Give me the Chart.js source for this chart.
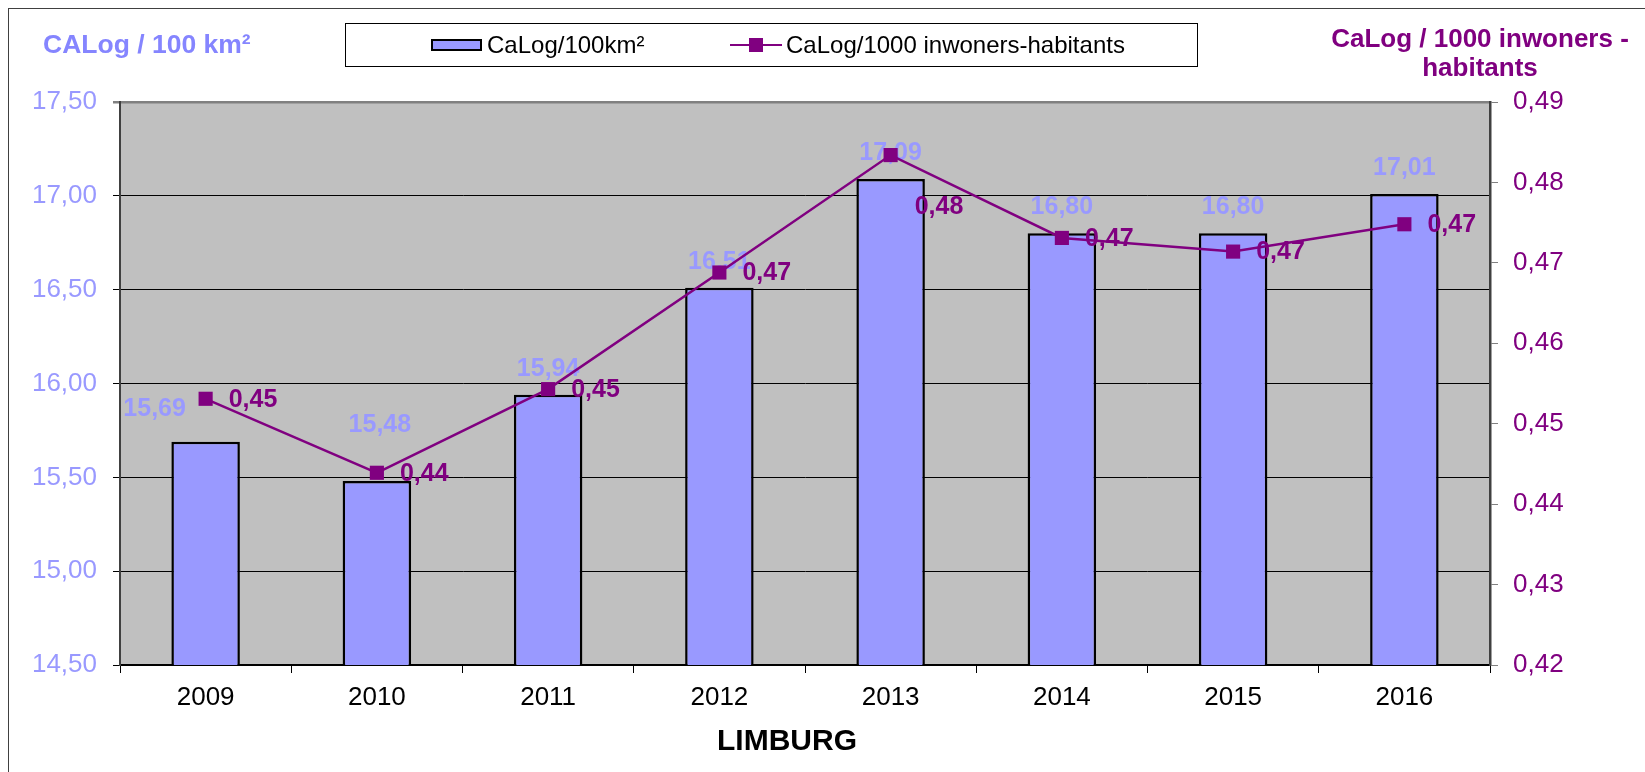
<!DOCTYPE html>
<html><head><meta charset="utf-8">
<script src="https://cdn.jsdelivr.net/npm/chart.js@4/dist/chart.umd.min.js"></script>
<style>
html,body{margin:0;padding:0;background:#fff;overflow:hidden}
#wrap{position:relative;width:1645px;height:772px;font-family:"Liberation Sans",Arial,sans-serif;overflow:hidden}
#frame{position:absolute;left:8px;top:8px;width:1700px;height:800px;border:1.5px solid #404040;}
canvas{position:absolute;left:0;top:0}
.t{position:absolute;font-weight:bold;font-size:26px;white-space:nowrap;line-height:29px}
#legend{position:absolute;left:345px;top:23px;width:853px;height:44px;border:1.5px solid #000;box-sizing:border-box;background:#fff;font-size:24px;color:#000}
#legend .it{position:absolute;top:0;height:41px;line-height:41px;white-space:nowrap}
</style></head>
<body>
<div id="wrap">
  <div id="frame"></div>
  <canvas id="c" width="1645" height="772"></canvas>
  <div id="lt" class="t" style="left:43px;top:30px;color:#8585FF;font-size:26.5px"></div>
  <div id="rt" class="t" style="left:1280px;top:24px;width:400px;text-align:center;color:#800080"></div>
  <div id="xt" class="t" style="left:587px;top:723px;width:400px;text-align:center;color:#000;font-size:30px;line-height:34px"></div>
  <div id="legend"></div>
</div>
<script>
const categories = ['2009','2010','2011','2012','2013','2014','2015','2016'];
const perArea = [15.69, 15.48, 15.94, 16.51, 17.09, 16.80, 16.80, 17.01];
const perCapita = [0.4531, 0.4439, 0.4543, 0.4688, 0.4834, 0.4731, 0.4714, 0.4748];
const seriesNames = ['CaLog/100km²', 'CaLog/1000 inwoners-habitants'];
const leftAxisTitle = 'CALog / 100 km²';
const rightAxisTitle = ['CaLog / 1000 inwoners -', 'habitants'];
const xAxisTitle = 'LIMBURG';
const leftRange = [14.5, 17.5, 0.5];
const rightRange = [0.42, 0.49, 0.01];

const FONT = '"Liberation Sans", Arial, sans-serif';
const BAR_COLOR = '#9999FF';
const LINE_COLOR = '#800080';
const fmt2 = v => v.toFixed(2).replace('.', ',');

document.getElementById('lt').textContent = leftAxisTitle;
document.getElementById('rt').innerHTML = rightAxisTitle.map(s => '<div>' + s + '</div>').join('');
document.getElementById('xt').textContent = xAxisTitle;

// legend
const lg = document.getElementById('legend');
lg.innerHTML =
  '<div class="it" style="left:85px"><span style="display:inline-block;width:47px;height:8px;background:' + BAR_COLOR + ';border:2px solid #000;vertical-align:middle;margin-right:5px;position:relative;top:-2px"></span>' + seriesNames[0] + '</div>' +
  '<div class="it" style="left:384px"><span style="display:inline-block;position:relative;width:52px;height:14px;vertical-align:middle;margin-right:4px;top:-2px">' +
  '<span style="position:absolute;left:0;top:6px;width:52px;height:2.5px;background:' + LINE_COLOR + '"></span>' +
  '<span style="position:absolute;left:19px;top:0;width:14px;height:14px;background:' + LINE_COLOR + '"></span></span>' + seriesNames[1] + '</div>';

const barNudge = {0: [-51, -33], 1: [3, -56]};
const lineNudge = {4: [24, 52]};

const bgPlugin = {
  id: 'bg',
  beforeDraw(chart) {
    const {ctx, chartArea: a} = chart;
    ctx.save();
    ctx.fillStyle = '#C0C0C0';
    ctx.fillRect(a.left, a.top, a.right - a.left, a.bottom - a.top);
    ctx.restore();
  }
};

const labelPlugin = {
  id: 'vlabels',
  afterDatasetDraw(chart, args) {
    const ctx = chart.ctx;
    const meta = args.meta;
    ctx.save();
    ctx.font = 'bold 25px ' + FONT;
    ctx.textBaseline = 'middle';
    if (args.index === 0) {
      ctx.fillStyle = BAR_COLOR;
      ctx.textAlign = 'center';
      meta.data.forEach((el, i) => {
        const n = barNudge[i] || [0, -26];
        ctx.fillText(fmt2(perArea[i]), el.x + n[0], el.y + n[1]);
      });
    } else {
      ctx.fillStyle = LINE_COLOR;
      ctx.textAlign = 'left';
      meta.data.forEach((el, i) => {
        const n = lineNudge[i] || [23, 1];
        ctx.fillText(fmt2(perCapita[i]), el.x + n[0], el.y + n[1]);
      });
    }
    ctx.restore();
  }
};

new Chart(document.getElementById('c'), {
  data: {
    labels: categories,
    datasets: [
      {
        type: 'bar', label: seriesNames[0], data: perArea, yAxisID: 'y', order: 2,
        backgroundColor: BAR_COLOR, borderColor: '#000', borderWidth: 2.5, borderSkipped: false,
        categoryPercentage: 1, barPercentage: 0.4
      },
      {
        type: 'line', label: seriesNames[1], data: perCapita, yAxisID: 'y1', order: 1,
        borderColor: LINE_COLOR, borderWidth: 2.5, tension: 0,
        pointStyle: 'rect', pointRadius: 10, pointBackgroundColor: LINE_COLOR, pointBorderWidth: 0
      }
    ]
  },
  options: {
    responsive: false, animation: false, devicePixelRatio: 1,
    layout: {padding: {top: 102, left: 0, right: 0, bottom: 0}},
    plugins: {legend: {display: false}, tooltip: {enabled: false}},
    scales: {
      x: {
        offset: true,
        grid: {offset: true, drawOnChartArea: false, tickLength: 8, color: '#000', lineWidth: 1},
        border: {color: '#000', width: 2},
        ticks: {color: '#000', font: {family: FONT, size: 26}, padding: 9, maxRotation: 0},
        afterFit(s) { s.height = 107; }
      },
      y: {
        position: 'left', min: leftRange[0], max: leftRange[1],
        grid: {
          color: c => (c.tick && c.tick.value === leftRange[1]) ? '#808080' : '#000',
          lineWidth: c => (c.tick && c.tick.value === leftRange[1]) ? 2.5 : 1,
          tickLength: 7
        },
        border: {color: '#404040', width: 2},
        ticks: {stepSize: leftRange[2], color: '#9999FF', font: {family: FONT, size: 26}, padding: 16, callback: v => fmt2(v)},
        afterFit(s) { s.width = 120; }
      },
      y1: {
        position: 'right', min: rightRange[0], max: rightRange[1],
        grid: {drawOnChartArea: false, color: '#808080', tickLength: 8},
        border: {color: '#404040', width: 2.5},
        ticks: {stepSize: rightRange[2], color: '#800080', font: {family: FONT, size: 26}, padding: 15, callback: v => fmt2(v)},
        afterFit(s) { s.width = 155; }
      }
    }
  },
  plugins: [bgPlugin, labelPlugin]
});
</script>
</body></html>
